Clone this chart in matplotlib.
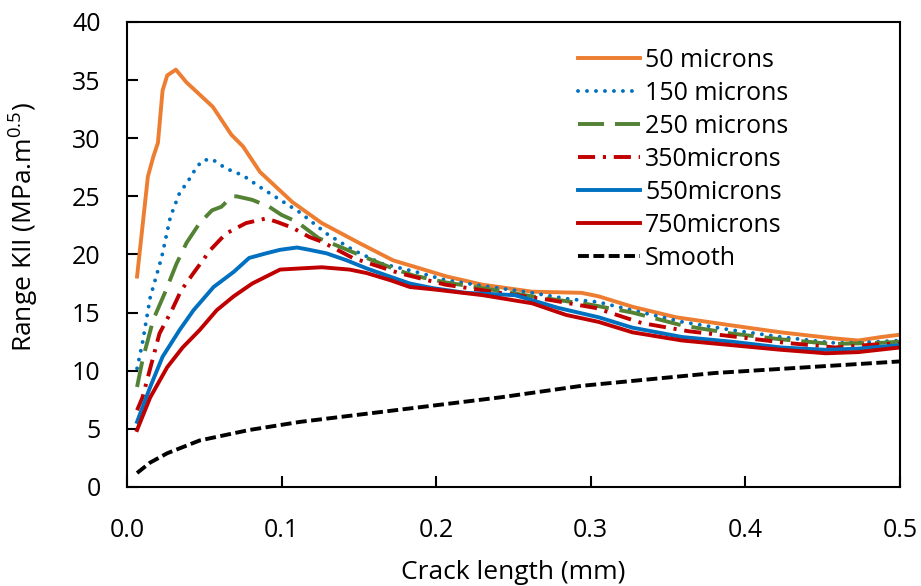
import matplotlib
matplotlib.use('Agg')
import matplotlib.pyplot as plt

plt.rcParams['font.family'] = ['Open Sans', 'DejaVu Sans']
plt.rcParams['mathtext.default'] = 'regular'

# crack length (mm) and range KII for each model
x50 = [0.0065, 0.0135, 0.017, 0.02, 0.023, 0.026, 0.0316, 0.0385, 0.045, 0.0555, 0.0675, 0.075, 0.086,
       0.107, 0.126, 0.15, 0.172, 0.207, 0.23, 0.262, 0.294, 0.305, 0.327, 0.355, 0.391, 0.423, 0.456,
       0.473, 0.488, 0.5]
y50 = [18.1, 26.7, 28.4, 29.6, 34.1, 35.4, 35.9, 34.8, 34.0, 32.7, 30.3, 29.3, 27.1,
       24.5, 22.7, 21.0, 19.5, 18.1, 17.4, 16.8, 16.7, 16.4, 15.5, 14.6, 13.9, 13.3, 12.8,
       12.6, 12.9, 13.1]

x150 = [0.0065, 0.01, 0.015, 0.0225, 0.028, 0.034, 0.039, 0.045, 0.049, 0.055, 0.064, 0.075, 0.086,
        0.099, 0.112, 0.129, 0.146, 0.165, 0.187, 0.206, 0.23, 0.262, 0.284, 0.305, 0.327, 0.359,
        0.391, 0.423, 0.456, 0.473, 0.5]
y150 = [10.2, 12.4, 16.3, 19.8, 23.2, 25.3, 26.2, 27.5, 28.1, 28.2, 27.4, 26.8, 25.8,
        24.7, 23.6, 21.8, 20.4, 19.2, 18.5, 17.8, 17.3, 16.7, 16.2, 15.9, 15.2, 14.2,
        13.5, 12.9, 12.4, 12.4, 12.6]

x250 = [0.0065, 0.01, 0.017, 0.0245, 0.032, 0.0385, 0.047, 0.055, 0.061, 0.068, 0.071, 0.081, 0.092,
        0.1, 0.11, 0.124, 0.137, 0.155, 0.172, 0.185, 0.206, 0.23, 0.262, 0.299, 0.327, 0.359,
        0.391, 0.423, 0.456, 0.488, 0.5]
y250 = [8.6, 10.9, 14.4, 16.7, 19.2, 21.0, 22.7, 23.8, 24.1, 25.0, 25.0, 24.7, 24.1,
        23.4, 22.8, 21.4, 20.7, 19.7, 18.8, 18.2, 17.6, 17.1, 16.4, 15.7, 15.0, 13.9,
        13.2, 12.7, 12.3, 12.4, 12.5]

x350 = [0.0065, 0.01, 0.021, 0.029, 0.035, 0.043, 0.054, 0.064, 0.077, 0.09, 0.097, 0.107, 0.118,
        0.126, 0.146, 0.176, 0.206, 0.241, 0.273, 0.303, 0.333, 0.363, 0.395, 0.426, 0.458, 0.488, 0.5]
y350 = [6.6, 7.7, 13.2, 15.2, 16.9, 18.4, 20.4, 21.8, 22.7, 23.1, 22.8, 22.3, 21.5,
        21.1, 19.7, 18.4, 17.4, 16.7, 16.1, 15.4, 14.1, 13.4, 12.9, 12.4, 12.0, 12.3, 12.3]

x550 = [0.0065, 0.015, 0.023, 0.034, 0.043, 0.056, 0.069, 0.079, 0.09, 0.099, 0.11, 0.118, 0.129,
        0.142, 0.155, 0.17, 0.183, 0.198, 0.219, 0.251, 0.279, 0.305, 0.327, 0.359, 0.391, 0.423,
        0.452, 0.473, 0.5]
y550 = [5.6, 8.6, 11.2, 13.5, 15.2, 17.2, 18.5, 19.7, 20.1, 20.4, 20.6, 20.4, 20.1,
        19.5, 18.8, 18.1, 17.5, 17.1, 16.7, 16.5, 15.4, 14.6, 13.7, 12.9, 12.5, 12.0,
        11.8, 11.9, 12.2]

x750 = [0.0065, 0.015, 0.026, 0.036, 0.047, 0.058, 0.069, 0.081, 0.09, 0.099, 0.112, 0.126, 0.144,
        0.155, 0.17, 0.183, 0.198, 0.23, 0.262, 0.284, 0.305, 0.327, 0.359, 0.391, 0.423, 0.452,
        0.473, 0.5]
y750 = [4.9, 7.7, 10.3, 12.0, 13.5, 15.2, 16.4, 17.5, 18.1, 18.7, 18.8, 18.9, 18.7,
        18.4, 17.8, 17.2, 17.0, 16.5, 15.8, 14.8, 14.2, 13.3, 12.6, 12.2, 11.8, 11.5,
        11.6, 12.0]

x_smooth = [0.0065, 0.015, 0.026, 0.047, 0.079, 0.112, 0.155, 0.198, 0.241, 0.294, 0.38, 0.44, 0.5]
y_smooth = [1.2, 2.1, 2.9, 4.0, 4.9, 5.6, 6.3, 7.0, 7.7, 8.7, 9.8, 10.3, 10.8]

fig = plt.figure(figsize=(9.21, 5.86), dpi=100)
ax = fig.add_axes([0.1379, 0.169, 0.8393, 0.7935])

lw = 2.8
ax.plot(x50, y50, color='#ED7D31', lw=lw, label='50 microns')
ax.plot(x150, y150, color='#0070C0', lw=lw, dashes=(0.01, 2.3), dash_capstyle='round', label='150 microns')
ax.plot(x250, y250, color='#548235', lw=lw, dashes=(6.7, 2.8), label='250 microns')
ax.plot(x350, y350, color='#C00000', lw=lw, dashes=(4.4, 2, 0.8, 2), label='350microns')
ax.plot(x550, y550, color='#0070C0', lw=lw, label='550microns')
ax.plot(x750, y750, color='#C00000', lw=lw, label='750microns')
ax.plot(x_smooth, y_smooth, color='black', lw=lw, dashes=(2.8, 1.15), label='Smooth')

ax.set_xlim(0, 0.5)
ax.set_ylim(0, 40)
ax.set_xticks([0, 0.1, 0.2, 0.3, 0.4, 0.5])
ax.set_xticklabels(['0.0', '0.1', '0.2', '0.3', '0.4', '0.5'])
ax.set_yticks(range(0, 41, 5))
ax.tick_params(direction='in', length=8, width=1.5, labelsize=18, pad=19)
ax.tick_params(axis='x', pad=22.5)
for s in ax.spines.values():
    s.set_linewidth(1.5)

ax.set_xlabel('Crack length (mm)', fontsize=19)
ax.set_ylabel('Range KII (MPa.m$^{0.5}$)', fontsize=19)
ax.xaxis.set_label_coords(0.5, -0.156)
ax.yaxis.set_label_coords(-0.111, 0.559)

ax.legend(loc='upper left', bbox_to_anchor=(0.583, 0.944), frameon=False, fontsize=18,
          handlelength=2.5, handletextpad=0.2, labelspacing=0.32, borderpad=0, borderaxespad=0)

fig.savefig('out.png', dpi=100)
